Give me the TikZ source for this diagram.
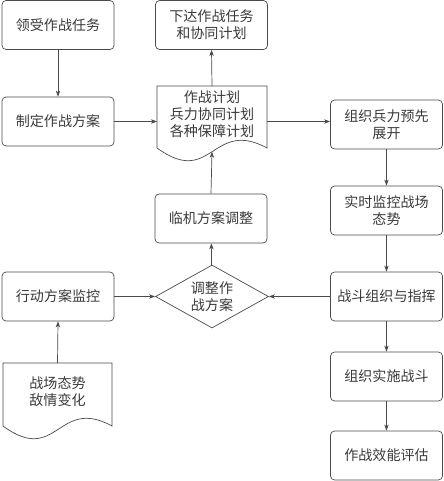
\documentclass[tikz,border=0pt]{standalone}
\usepackage{fontspec}
\newfontfamily\cjk{Noto Sans CJK SC}
\usetikzlibrary{arrows.meta, positioning, shapes.geometric, calc}
\definecolor{cline}{HTML}{4A4A4A}
\definecolor{ctext}{HTML}{3A3A3A}
\tikzset{
  every picture/.style={line width=0.6pt},
  txt/.style={align=center, text=ctext, font=\cjk\fontsize{12}{14.5}\selectfont, inner sep=0pt},
  box/.style={txt, draw=cline, rounded corners=3.5pt, minimum width=3.36cm, minimum height=1.47cm},
  decide/.style={txt, diamond, draw=cline, aspect=1.79, minimum width=3.39cm, minimum height=1.89cm},
  doc/.style={draw=cline},
  arrow/.style={-{Stealth[length=1.8mm, width=1.3mm, inset=0.5mm]}, draw=cline},
}

\begin{document}
\begin{tikzpicture}[x=0.03cm, y=-0.03cm]
  \useasboundingbox (0,0) rectangle (443,481);
  % left column
  \node[box] (recv) at (58,25) {领受作战任务};
  \node[box] (plan) at (58,121.5) {制定作战方案};
  \node[box] (monitor) at (58,296.5) {行动方案监控};
  \node[txt] (situ) at (57.5,392) {战场态势\\敌情变化};
  \draw[doc] (3,363) -- coordinate[midway] (situtop) (112,363) -- (112,426)
    .. controls (57.5,396) and (57.5,466) .. (3,426) -- cycle;
  % middle column
  \node[box] (issue) at (211.5,25) {下达作战任务\\和协同计划};
  \node[txt] (doc) at (212,114) {作战计划\\兵力协同计划\\各种保障计划};
  \draw[doc] (157,86) coordinate (docnw) -- coordinate[midway] (doctop) (267,86) coordinate (docne)
    -- (267,148) .. controls (212,118) and (212,188) .. (157,148) coordinate[pos=0.5] (docbot) -- cycle;
  \node[box] (adjust) at (211,218.5) {临机方案调整};
  \node[decide] (dia) at (212,296.5) {调整作\\战方案};
  % right column
  \node[box] (deploy) at (386.5,124.5) {组织兵力预先\\展开};
  \node[box] (watch) at (386.5,210.5) {实时监控战场\\态势};
  \node[box] (command) at (386.5,296.5) {战斗组织与指挥};
  \node[box] (fight) at (386.5,376.5) {组织实施战斗};
  \node[box] (eval) at (386.5,455.5) {作战效能评估};
  % connectors
  \draw[arrow] (recv) -- (plan);
  \draw[arrow] (plan.east) -- (plan.east -| docnw);
  \draw[arrow] (doctop) -- (issue.south);
  \draw[arrow] (plan.east -| docne) -- (plan.east -| deploy.west);
  \draw[arrow] (deploy) -- (watch);
  \draw[arrow] (watch) -- (command);
  \draw[arrow] (command) -- (fight);
  \draw[arrow] (fight) -- (eval);
  \draw[arrow] (command) -- (dia);
  \draw[arrow] (monitor) -- (dia);
  \draw[arrow] (situtop) -- (monitor.south);
  \draw[arrow] (dia) -- (adjust);
  \draw[arrow] (adjust.north) -- (docbot);
\end{tikzpicture}
\end{document}
